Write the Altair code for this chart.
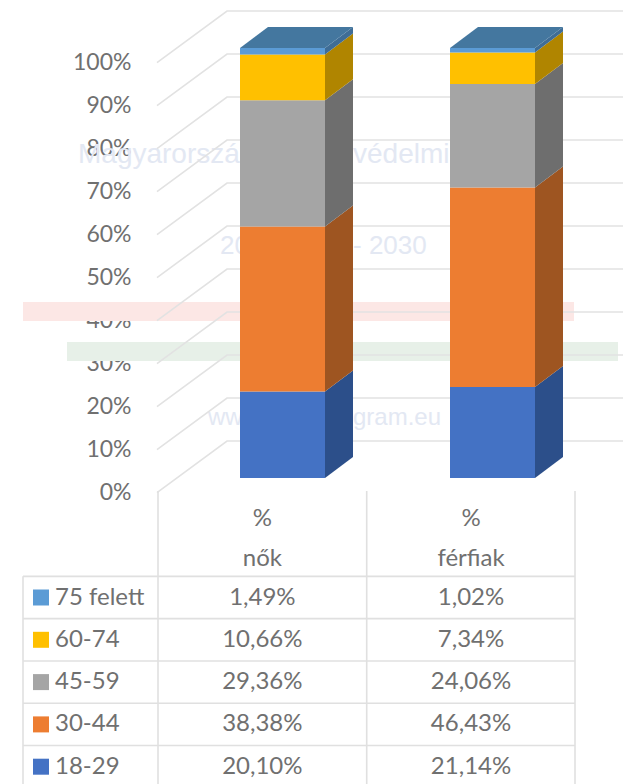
import altair as alt
import pandas as pd

# ---- data ----
columns = ["nők", "férfiak"]
groups = ["18-29", "30-44", "45-59", "60-74", "75 felett"]
nok = [20.10, 38.38, 29.36, 10.66, 1.49]
ferfiak = [21.14, 46.43, 24.06, 7.34, 1.02]
front_colors = ["#4472C4", "#ED7D31", "#A5A5A5", "#FFC000", "#5B9BD5"]
side_colors = ["#2C4F8A", "#9E5521", "#6E6E6E", "#B08500", "#3F6D96"]
top_color = "#44779F"
ticks = [0, 10, 20, 30, 40, 50, 60, 70, 80, 90, 100]

# ---- scales: x in table columns, y in percent, table y in rows ----
PX_COL = 208.7
PX_PCT = 4.30
PX_ROW = 42.3
def col(px):
    return -0.5 + (px - 158) / PX_COL
def pct(px):
    return (491 - px) / PX_PCT
def row(px):
    return (px - 597.5) / PX_ROW

xs = alt.Scale(domain=[col(8), col(623)], nice=False, zero=False)
ys = alt.Scale(domain=[pct(784), pct(8)], nice=False, zero=False)
rs = alt.Scale(domain=[row(8), row(784)], nice=False, zero=False, reverse=True)
X = lambda f: alt.X(f, type="quantitative", scale=xs, axis=None)
Y = lambda f: alt.Y(f, type="quantitative", scale=ys, axis=None)
R = lambda f: alt.Y(f, type="quantitative", scale=rs, axis=None)
X2 = lambda f: alt.X2(f)
Y2 = lambda f: alt.Y2(f)

FRONT_SHIFT = (282.5 - 262.35) / PX_COL
BAR_STEP = 210 / PX_COL
HALF = 42.5 / PX_COL
DEPTH_X = 28 / PX_COL
DEPTH_Y = 21 / PX_PCT
BASE = 13 / PX_PCT
WALL_X0, WALL_X1, WALL_XR = col(157), col(227), col(623)
WALL_Y0, WALL_Y1 = -0.4, 50 / PX_PCT

# ---- derived tables ----
fronts, sides, tops = [], [], []
for c, vals in enumerate([nok, ferfiak]):
    left = c * BAR_STEP + FRONT_SHIFT - HALF
    right = c * BAR_STEP + FRONT_SHIFT + HALF
    bottom = 0.0
    for g, v in enumerate(vals):
        y0, y1 = BASE + bottom, BASE + bottom + v
        bottom += v
        fronts.append(dict(x=left, x2=right, y=y0, y2=y1, color=front_colors[g]))
        key = f"{c}-{g}"
        sides.append(dict(k=key, x=right, y=y0, y2=y1, color=side_colors[g]))
        sides.append(dict(k=key, x=right + DEPTH_X, y=y0 + DEPTH_Y, y2=y1 + DEPTH_Y, color=side_colors[g]))
    tops.append(dict(k=c, y=BASE + bottom, x=left, x2=right))
    tops.append(dict(k=c, y=BASE + bottom + DEPTH_Y, x=left + DEPTH_X, x2=right + DEPTH_X))

wall = []
for t in ticks:
    wall.append(dict(t=t, o=0, x=WALL_X0, y=t + WALL_Y0))
    wall.append(dict(t=t, o=1, x=WALL_X1, y=t + WALL_Y1))
    wall.append(dict(t=t, o=2, x=WALL_XR, y=t + WALL_Y1))

bands = pd.DataFrame([
    dict(x=col(23), x2=col(574), y=pct(302), y2=pct(321), color="#FCE7E5"),
    dict(x=col(67), x2=col(618), y=pct(342), y2=pct(361), color="#E7F0E8"),
])
marks = pd.DataFrame([
    dict(x=col(78), y=pct(155), s="Magyarország átfo", fs=28),
    dict(x=col(353), y=pct(155), s="védelmi szá", fs=28),
    dict(x=col(220), y=pct(246), s="20", fs=26),
    dict(x=col(353), y=pct(246), s="- 2030", fs=26),
    dict(x=col(208), y=pct(418), s="www.", fs=24),
    dict(x=col(353), y=pct(418), s="gram.eu", fs=24),
])

grey = "#707070"
FONT = "Lato"
FS = 23
FS_T = 24

bg = alt.Chart(bands).mark_rect().encode(X("x"), x2=X2("x2"), y=Y("y"), y2=Y2("y2"),
                                         color=alt.Color("color:N", scale=None))
water = alt.Chart(marks).mark_text(align="left", baseline="middle", font="Liberation Sans",
                                   color="#E3E8F3").encode(X("x"), y=Y("y"), text="s:N",
                                                           size=alt.Size("fs:Q", scale=None))
grid = alt.Chart(pd.DataFrame(wall)).mark_line(color="#E2E2E2", strokeWidth=1.6).encode(
    X("x"),
    alt.Y("y:Q", scale=ys, axis=alt.Axis(values=ticks, labelExpr="datum.value + '%'", orient="left",
                                         offset=-123, labelPadding=0, labelOffset=1, ticks=False,
                                         domain=False, grid=False, title=None, labelColor=grey,
                                         labelFont=FONT, labelFontSize=FS)),
    detail="t:N", order="o:Q")
side = alt.Chart(pd.DataFrame(sides)).mark_area(orient="vertical", opacity=1).encode(
    X("x"), y=Y("y"), y2=Y2("y2"), detail="k:N", color=alt.Color("color:N", scale=None))
front = alt.Chart(pd.DataFrame(fronts)).mark_rect().encode(
    X("x"), x2=X2("x2"), y=Y("y"), y2=Y2("y2"), color=alt.Color("color:N", scale=None))
top = alt.Chart(pd.DataFrame(tops)).mark_area(orient="horizontal", color=top_color, opacity=1).encode(
    Y("y"), x=X("x"), x2=X2("x2"), detail="k:N")

# ---- table ----
edge = "#E0E0E0"
h_lines = pd.DataFrame([dict(y=i - 0.5, x=col(23), x2=col(575)) for i in range(5)])
v_lines = pd.DataFrame([
    dict(x=col(158), y=row(491), y2=row(784)),
    dict(x=col(366.7), y=row(491), y2=row(784)),
    dict(x=col(575), y=row(491), y2=row(784)),
    dict(x=col(23), y=row(576.3), y2=row(784)),
])
t_h = alt.Chart(h_lines).mark_rule(color=edge, strokeWidth=1.6).encode(X("x"), x2=X2("x2"), y=R("y"))
t_v = alt.Chart(v_lines).mark_rule(color=edge, strokeWidth=1.6).encode(X("x"), y=R("y"), y2=Y2("y2"))

cells = []
for c, name in enumerate(columns):
    cells.append(dict(x=c, y=row(519), s="%"))
    cells.append(dict(x=c, y=row(559), s=name))
    vals = [nok, ferfiak][c]
    for i, g in enumerate(reversed(range(5))):
        cells.append(dict(x=c, y=i, s=f"{vals[g]:.2f}%".replace(".", ",")))
t_cells = alt.Chart(pd.DataFrame(cells)).mark_text(font=FONT, fontSize=FS_T, color=grey, baseline="middle",
                                                   align="center").encode(X("x"), y=R("y"), text="s:N")
leg = pd.DataFrame([dict(x=col(33), x2=col(49), xt=col(55), y=i - 8 / PX_ROW, y2=i + 8 / PX_ROW, yt=i,
                         s=groups[g], color=front_colors[g])
                    for i, g in enumerate(reversed(range(5)))])
t_sw = alt.Chart(leg).mark_rect().encode(X("x"), x2=X2("x2"), y=R("y"), y2=Y2("y2"),
                                         color=alt.Color("color:N", scale=None))
t_leg = alt.Chart(leg).mark_text(font=FONT, fontSize=FS_T, color=grey, baseline="middle", align="left").encode(
    X("xt"), y=R("yt"), text="s:N")

chart = alt.layer(bg, water, grid, side, front, top, t_h, t_v, t_cells, t_sw, t_leg).resolve_scale(
    y="independent", color="independent"
).properties(
    width=615, height=776, padding=0, background="white",
    autosize=alt.AutoSizeParams(type="none"),
).configure_view(stroke=None)

chart.save("out.html", embed_options={"renderer": "svg", "actions": False})
